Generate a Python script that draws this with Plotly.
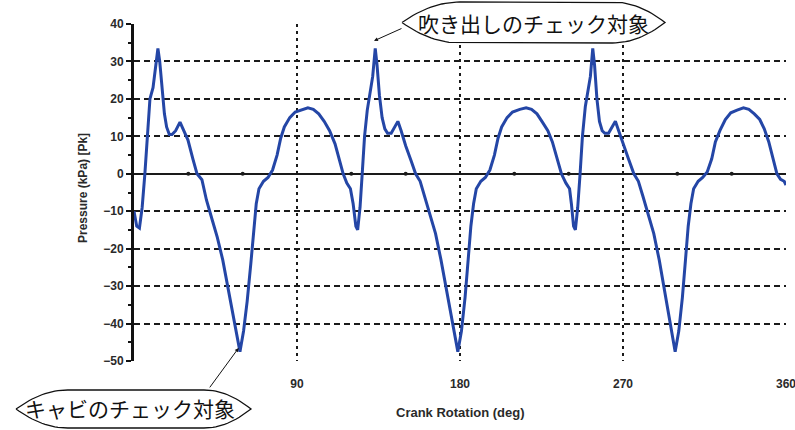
import plotly.graph_objects as go

# Crank angle (deg) and measured pressure (kPa) over one full revolution
crank_deg = [
    0, 1.5, 3, 4.5, 6, 7.2, 8.8, 10.5, 13.2, 14.2, 15.4, 16.8, 18, 19.5, 21, 23, 25.4, 27.5, 29.8,
    32.5, 34.8, 37.5, 40, 43, 46, 49, 52, 55.5, 58.5, 60.5, 62.5, 64.5, 66, 67.5, 69, 71.5, 74,
    76.5, 79, 81, 83, 86, 89, 92.5, 96, 99, 102, 105, 108, 111, 114, 115.5, 117.5, 119.5,
    121, 122.5, 123.5, 124.8, 126, 127.3, 128.8, 130.5, 131.8, 133.2, 134.2, 135.5, 137, 138.5,
    140, 142, 144, 145.7, 147.5, 150, 153, 155.5, 158, 160.5, 163.5, 166.5, 169.5, 172.5, 176,
    178.8, 180.8, 182.8, 184.5, 186, 187.5, 189, 191.5, 194, 196.5, 199, 201, 203, 206, 209, 213,
    216.5, 219.5, 222.5, 225.5, 228.5, 231, 234, 236, 238.5, 240.5,
    241.5, 242.7, 243.7, 245, 246.3, 247.6, 249.2, 250.8, 252, 253.3, 254.3, 255.6, 257, 258.5,
    260, 262, 264, 265.8, 267.6, 270, 273, 276, 278.5, 281, 284, 287, 290, 293, 296, 298.8, 300.8,
    302.8, 304.5, 306, 307.5, 309, 311.5, 314, 316.5, 319, 321, 323.5, 326.5, 329.5, 333, 336.5,
    339.5, 342.5, 345.5, 348, 350.5, 353, 355, 357, 359, 360,
]
pressure_kpa = [
    -10, -14, -14.5, -9, 0, 10, 20, 23, 33.5, 30, 23, 16, 12.5, 10.5, 10.5, 11.5, 13.8, 11.5, 9,
    4, 0, -1.6, -7, -12, -17, -23, -31, -40, -47.5, -42, -34, -24, -15, -8, -4, -2, -1,
    1, 5, 9.5, 12.5, 15, 16.5, 17, 17.6, 17.2, 16, 14, 11.5, 8, 3, 0, -2.5, -4,
    -8, -14, -15, -9, 0, 10, 17, 22, 26, 33.5, 29, 21, 15, 12,
    10.8, 10.8, 12.5, 14, 11.5, 7.5, 3.5, 0, -2, -6, -11, -16, -23, -31, -40,
    -47.5, -42, -33, -23, -14, -8, -4, -2, -1, 1, 5, 9.5, 12.5, 15, 16.5, 17.2,
    17.6, 17.2, 16, 13.8, 11.5, 8.5, 3, 0, -2.5, -4,
    -8, -14, -15, -9, 0, 10, 18, 22, 26, 33.5, 29, 20, 14, 11.5,
    10.8, 10.8, 12.5, 14, 11.5, 8, 4, 0, -2, -6, -11, -16, -23, -31, -40, -47.5, -42,
    -33, -23, -14, -8, -4, -2, -1, 0.5, 4, 8.5, 11.5, 14.5, 16.3, 17, 17.6,
    17.2, 16, 14.5, 12, 8.5, 4, 0, -1.5, -2, -3,
]

x_ticks = [90, 180, 270, 360]
x_minor = [30, 60, 120, 150, 210, 240, 300, 330]

# Figure size and plot-area edges in pixels
W, H = 795, 430
L, R, T, B = 134, 786, 24, 361

INK = "#1a1a1a"
TEXT = "#2a2a2a"

fig = go.Figure()

fig.add_trace(go.Scatter(
    x=crank_deg, y=pressure_kpa, mode="lines",
    line=dict(color="#2446a6", width=3), hoverinfo="x+y", showlegend=False,
))

# minor tick dots along the zero line
fig.add_trace(go.Scatter(
    x=x_minor, y=[0] * len(x_minor), mode="markers",
    marker=dict(color=INK, size=4), hoverinfo="skip", showlegend=False,
))


def bubble_outline(x0, x1, ytop, ybot, n=16):
    """Callout outline (pixel coords) with pointed ends and flat top/bottom."""
    ym = (ytop + ybot) / 2
    w = x1 - x0
    xs, ys = [], []
    for i in range(n + 1):
        t = i / n
        xs.append(x0 + 0.22 * w * t)
        ys.append(ym - (ym - ytop) * (1 - (1 - t) ** 2))
    xs += [x1 - 0.2 * w]
    ys += [ytop]
    for i in range(n + 1):
        t = i / n
        xs.append(x1 - 0.2 * w + 0.2 * w * t)
        ys.append(ytop + (ym - ytop) * t ** 2)
    for i in range(n + 1):
        t = i / n
        xs.append(x1 - 0.2 * w * t)
        ys.append(ym + (ybot - ym) * (1 - (1 - t) ** 2))
    xs += [x0 + 0.22 * w]
    ys += [ybot]
    for i in range(n + 1):
        t = i / n
        xs.append(x0 + 0.22 * w - 0.22 * w * t)
        ys.append(ybot - (ybot - ym) * t ** 2)
    return xs, ys


# callout outlines drawn on a full-figure pixel overlay
for x0, x1, yt, yb in [(402, 665, 2, 43), (16, 251, 390, 428)]:
    bx, by = bubble_outline(x0, x1, yt, yb)
    fig.add_trace(go.Scatter(
        x=bx, y=by, xaxis="x2", yaxis="y2", mode="lines", fill="toself",
        fillcolor="white", line=dict(color="#111", width=1.3),
        hoverinfo="skip", showlegend=False,
    ))

fig.update_layout(
    width=W, height=H,
    margin=dict(l=0, r=0, t=0, b=0, autoexpand=False),
    paper_bgcolor="white", plot_bgcolor="rgba(0,0,0,0)",
    font=dict(family="Liberation Sans", color=TEXT, size=11),
    showlegend=False,
    xaxis2=dict(domain=[0, 1], range=[0, W], visible=False, anchor="y2", fixedrange=True),
    yaxis2=dict(domain=[0, 1], range=[H, 0], visible=False, anchor="x2", fixedrange=True),
    xaxis=dict(
        domain=[L / W, R / W], anchor="y",
        range=[0, 360], tickvals=x_ticks, ticktext=[str(v) for v in x_ticks],
        showgrid=True, gridcolor=INK, gridwidth=2, griddash="3px,4px",
        zeroline=False, showline=False, ticks="",
        ticklabelstandoff=14, ticklabeloverflow="allow",
        tickfont=dict(family="Liberation Sans", size=12, color=TEXT, weight="bold"),
    ),
    yaxis=dict(
        domain=[(H - B) / H, (H - T) / H], anchor="x",
        range=[-50, 40], dtick=10, tick0=0,
        showgrid=True, gridcolor=INK, gridwidth=2, griddash="6px,4px",
        zeroline=True, zerolinecolor=INK, zerolinewidth=1.5,
        showline=True, linecolor="#111", linewidth=3,
        ticks="outside", ticklen=5, tickwidth=2, tickcolor="#111",
        minor=dict(ticks="outside", ticklen=3, tickwidth=2, tickcolor="#111", dtick=5, showgrid=False),
        tickfont=dict(family="Liberation Sans", size=12, color=TEXT, weight="bold"),
    ),
)

# axis titles
fig.add_annotation(
    text="Crank Rotation (deg)", xref="x2", yref="y2", x=460, y=412,
    xanchor="center", yanchor="middle", showarrow=False,
    font=dict(family="Liberation Sans", size=13, color=TEXT, weight="bold"),
)
fig.add_annotation(
    text="Pressure (kPa) [Pk]", xref="x2", yref="y2", x=83, y=188,
    xanchor="center", yanchor="middle", showarrow=False, textangle=-90,
    font=dict(family="Liberation Sans", size=12, color=TEXT, weight="bold"),
)

# callout texts
fig.add_annotation(
    text="吹き出しのチェック対象", xref="x2", yref="y2", x=533, y=23,
    xanchor="center", yanchor="middle", showarrow=False,
    font=dict(family="Noto Sans CJK JP", size=21, color="#111"),
)
fig.add_annotation(
    text="キャビのチェック対象", xref="x2", yref="y2", x=130, y=408,
    xanchor="center", yanchor="middle", showarrow=False,
    font=dict(family="Noto Sans CJK JP", size=21, color="#111"),
)

# arrows from the callouts to the checked points
fig.add_annotation(
    text="", x=132.5, y=35.5, xref="x", yref="y",
    showarrow=True, ax=29, ay=-13, arrowhead=2, arrowsize=0.8, arrowwidth=1, arrowcolor="#111",
)
fig.add_annotation(
    text="", x=57.8, y=-46.5, xref="x", yref="y",
    showarrow=True, ax=-30, ay=41, arrowhead=2, arrowsize=0.8, arrowwidth=1, arrowcolor="#111",
)

fig.write_html("out.html")
